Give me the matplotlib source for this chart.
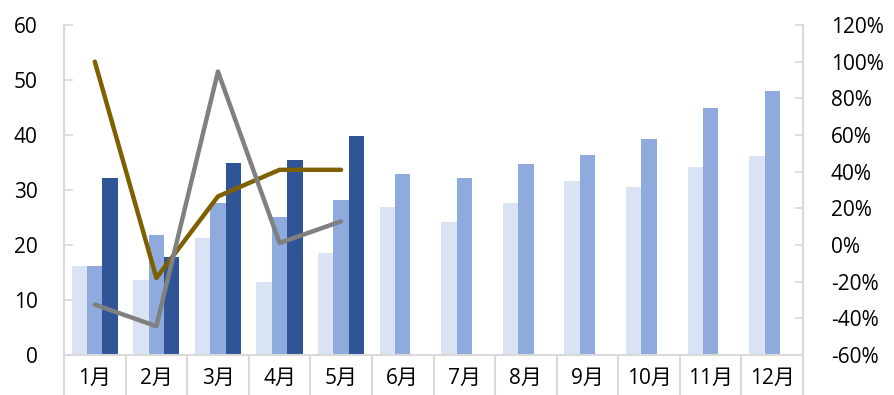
import matplotlib
matplotlib.use("Agg")
import matplotlib.pyplot as plt
import numpy as np
from matplotlib.ticker import FixedLocator, PercentFormatter

plt.rcParams['font.family'] = ['Open Sans', 'Noto Sans CJK SC', 'DejaVu Sans']
plt.rcParams['axes.unicode_minus'] = False

months = ["1月", "2月", "3月", "4月", "5月", "6月", "7月", "8月", "9月", "10月", "11月", "12月"]
light_vals = [16.1, 13.6, 21.3, 13.2, 18.5, 27.0, 24.1, 27.7, 31.6, 30.5, 34.1, 36.2]
medium_vals = [16.1, 21.8, 27.7, 25.1, 28.2, 32.9, 32.2, 34.8, 36.4, 39.2, 44.9, 48.0]
dark_vals = [32.2, 17.9, 35.0, 35.4, 39.9, np.nan, np.nan, np.nan, np.nan, np.nan, np.nan, np.nan]
gold_pct = [100, -18, 26.5, 41, 41]
gray_pct = [-32.5, -44.3, 94.6, 1.1, 12.9]

W, H = 894, 395
fig = plt.figure(figsize=(W / 100, H / 100), dpi=100)
ax = fig.add_axes([64 / W, (H - 355) / H, (803 - 64) / W, 330 / H])

x = np.arange(len(months))
w = 0.25
ax.bar(x - w, light_vals, w, color="#DAE3F3", zorder=2)
ax.bar(x, medium_vals, w, color="#8FAADC", zorder=2)
ax.bar(x + w, dark_vals, w, color="#2F5597", zorder=2)

ax.set_xlim(-0.5, len(months) - 0.5)
ax.set_ylim(0, 60)
ax.set_yticks(range(0, 61, 10))
ax.set_xticks(x)
ax.set_xticklabels(months)
ax.xaxis.set_minor_locator(FixedLocator(np.arange(-0.5, len(months), 1.0)))

grid_col = "#D9D9D9"
for side in ("top", "right"):
    ax.spines[side].set_visible(False)
for side in ("left", "bottom"):
    ax.spines[side].set_color(grid_col)
    ax.spines[side].set_linewidth(1.5)

ax.tick_params(axis="y", direction="in", length=6.5, width=1.2, color=grid_col,
               labelsize=15, pad=19)
ax.tick_params(axis="x", which="major", length=0, labelsize=15, pad=9)
ax.tick_params(axis="x", which="minor", direction="out", length=29, width=1.5, color=grid_col)

ax2 = ax.twinx()
ax2.set_ylim(-60, 120)
ax2.set_yticks(range(-60, 121, 20))
ax2.yaxis.set_major_formatter(PercentFormatter(decimals=0))
for side in ("top", "left", "bottom"):
    ax2.spines[side].set_visible(False)
ax2.spines["right"].set_color(grid_col)
ax2.spines["right"].set_linewidth(1.5)
ax2.tick_params(axis="y", direction="in", length=5.5, width=1.2, color=grid_col,
                labelsize=15, pad=20)

xl = x[:len(gold_pct)]
ax2.plot(xl, gold_pct, color="#7F6000", linewidth=3.2, solid_capstyle="round", zorder=3)
ax2.plot(xl, gray_pct, color="#808080", linewidth=3.2, solid_capstyle="round", zorder=3)

fig.savefig("out.png", dpi=100)
